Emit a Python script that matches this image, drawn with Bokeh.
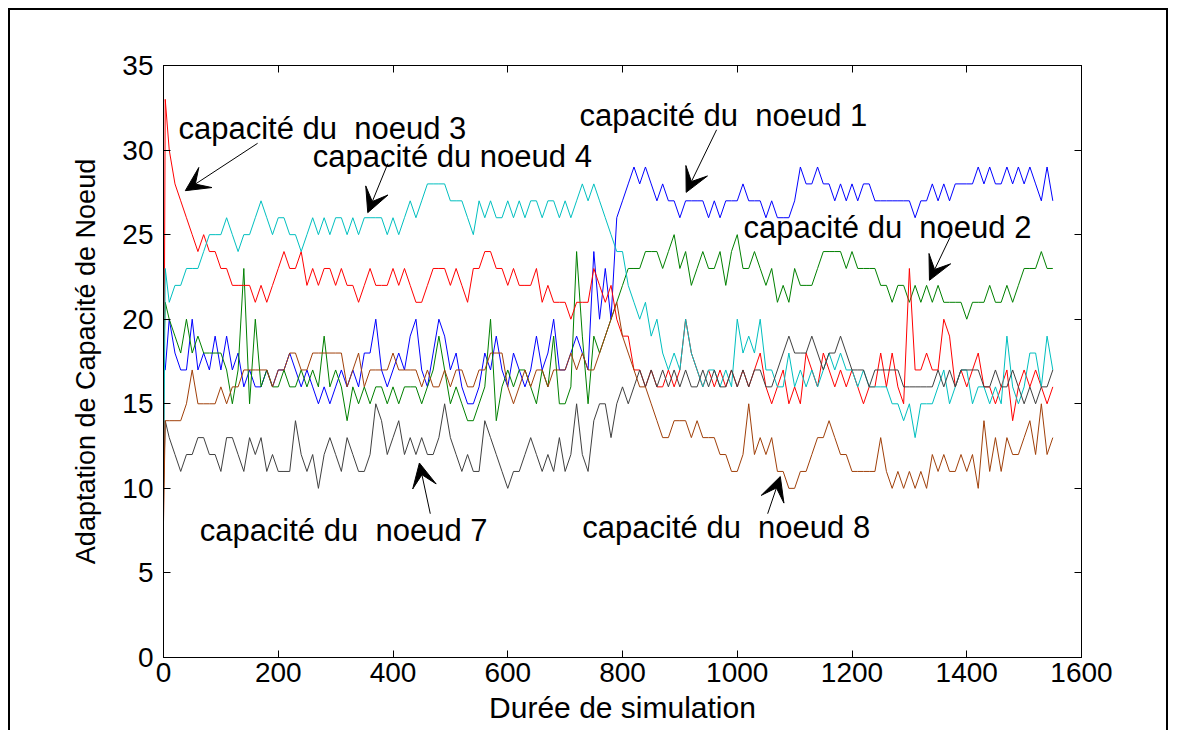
from bokeh.plotting import figure
from bokeh.models import LinearAxis, Label, Arrow, VeeHead, Range1d, SingleIntervalTicker
from bokeh.embed import file_html
from bokeh.resources import INLINE

# time axis: first sample, the jump sample, then every 10 time units
time = [0, 3] + list(range(10, 1551, 10))

noeud1 = [17, 17,
          20, 18, 17, 17, 20, 17, 18, 17, 19, 17,
          19, 17, 18, 16, 17, 16, 16, 17, 16, 17,
          17, 18, 17, 16, 17, 16, 15, 16, 15, 16,
          17, 16, 17, 16, 18, 18, 20, 17, 16, 17,
          18, 17, 19, 20, 17, 16, 18, 20, 19, 17,
          18, 16, 15, 15, 16, 18, 17, 19, 17, 16,
          18, 17, 16, 17, 19, 17, 18, 20, 17, 17,
          18, 19, 18, 17, 24, 20, 23, 20, 26, 27,
          28, 29, 28, 29, 28, 27, 28, 27, 27, 26,
          27, 27, 27, 27, 26, 27, 26, 27, 27, 27,
          28, 27, 27, 27, 26, 27, 26, 26, 26, 27,
          29, 28, 28, 29, 28, 28, 27, 28, 27, 28,
          27, 28, 28, 27, 27, 27, 27, 27, 27, 27,
          26, 27, 27, 28, 27, 28, 27, 28, 28, 28,
          28, 29, 28, 29, 28, 28, 29, 28, 29, 28,
          29, 28, 27, 29, 27]

noeud2 = [17, 21,
          20, 19, 18, 20, 18, 19, 18, 18, 18, 18,
          17, 15, 17, 23, 15, 20, 16, 17, 16, 16,
          17, 16, 16, 17, 16, 17, 16, 19, 16, 17,
          16, 14, 16, 15, 16, 15, 16, 16, 15, 16,
          15, 16, 16, 16, 15, 16, 17, 19, 17, 15,
          16, 15, 14, 14, 15, 16, 20, 14, 16, 17,
          16, 17, 17, 16, 15, 17, 16, 19, 15, 15,
          16, 24, 19, 15, 19, 18, 19, 20, 21, 22,
          23, 23, 23, 24, 24, 24, 23, 24, 25, 23,
          24, 22, 23, 24, 23, 23, 24, 22, 24, 25,
          23, 23, 24, 23, 22, 23, 21, 22, 21, 23,
          22, 22, 22, 23, 24, 24, 24, 24, 23, 24,
          23, 23, 23, 23, 22, 22, 21, 22, 22, 21,
          22, 21, 22, 21, 22, 21, 21, 21, 21, 20,
          21, 21, 21, 22, 21, 21, 22, 21, 22, 23,
          23, 23, 24, 23, 23]

noeud3 = [8, 33,
          30, 28, 27, 26, 25, 24, 25, 24, 24, 23,
          23, 22, 22, 22, 22, 21, 22, 21, 22, 23,
          24, 23, 23, 24, 22, 23, 22, 23, 23, 22,
          23, 22, 22, 21, 22, 23, 22, 22, 22, 23,
          22, 23, 22, 21, 21, 22, 23, 23, 23, 22,
          23, 22, 21, 23, 23, 24, 24, 23, 23, 22,
          23, 22, 22, 22, 23, 21, 22, 21, 21, 21,
          20, 21, 21, 21, 23, 22, 21, 22, 20, 19,
          19, 17, 17, 16, 17, 16, 16, 17, 16, 17,
          20, 18, 17, 16, 17, 16, 17, 16, 17, 16,
          17, 16, 17, 18, 16, 15, 16, 17, 15, 16,
          15, 18, 17, 16, 18, 17, 16, 17, 16, 17,
          16, 15, 16, 16, 18, 16, 18, 16, 15, 23,
          17, 17, 18, 17, 17, 20, 19, 16, 17, 16,
          17, 18, 16, 16, 15, 16, 17, 14, 16, 17,
          16, 17, 16, 15, 16]

noeud4 = [9, 23,
          21, 22, 22, 23, 23, 23, 24, 25, 25, 25,
          26, 25, 24, 25, 25, 26, 27, 26, 25, 26,
          26, 25, 25, 24, 25, 26, 25, 26, 25, 26,
          26, 25, 26, 25, 26, 26, 26, 26, 25, 26,
          25, 26, 27, 26, 27, 28, 28, 28, 28, 27,
          27, 27, 26, 25, 27, 26, 27, 26, 26, 27,
          26, 27, 26, 27, 27, 26, 27, 27, 26, 27,
          26, 27, 28, 27, 28, 27, 26, 25, 24, 24,
          22, 21, 20, 21, 19, 20, 18, 17, 18, 17,
          20, 18, 17, 16, 17, 17, 16, 17, 16, 20,
          18, 19, 18, 20, 17, 17, 16, 16, 18, 16,
          17, 16, 17, 16, 17, 18, 17, 18, 17, 17,
          16, 17, 16, 16, 16, 16, 15, 15, 14, 15,
          13, 15, 15, 15, 16, 17, 15, 16, 17, 17,
          15, 16, 16, 15, 16, 15, 19, 16, 15, 16,
          18, 18, 16, 19, 17]

noeud7 = [10, 14,
          13, 12, 11, 12, 12, 13, 13, 12, 12, 11,
          13, 13, 12, 11, 13, 12, 13, 11, 12, 11,
          11, 11, 14, 12, 11, 12, 10, 12, 13, 12,
          11, 13, 12, 11, 11, 12, 15, 14, 12, 13,
          14, 12, 13, 12, 13, 12, 12, 13, 15, 13,
          12, 11, 12, 11, 11, 14, 13, 12, 11, 10,
          11, 11, 12, 13, 12, 11, 12, 11, 13, 11,
          12, 15, 12, 11, 14, 15, 15, 13, 15, 16,
          15, 16, 17, 16, 17, 16, 17, 16, 17, 16,
          17, 16, 16, 17, 16, 17, 16, 16, 17, 16,
          17, 16, 17, 17, 16, 16, 17, 18, 19, 18,
          18, 18, 19, 18, 17, 18, 18, 19, 18, 17,
          17, 17, 16, 17, 17, 17, 17, 17, 16, 16,
          16, 16, 16, 16, 17, 16, 17, 16, 17, 17,
          17, 17, 16, 16, 17, 16, 16, 17, 16, 15,
          16, 15, 16, 16, 17]

noeud8 = [8, 14,
          14, 14, 14, 15, 17, 15, 15, 15, 15, 16,
          15, 16, 16, 17, 17, 17, 17, 17, 16, 17,
          17, 18, 18, 17, 17, 18, 18, 18, 18, 18,
          18, 16, 17, 18, 16, 17, 17, 17, 17, 18,
          17, 17, 17, 17, 16, 17, 16, 16, 17, 16,
          17, 17, 16, 16, 17, 17, 18, 18, 18, 16,
          15, 16, 17, 16, 17, 17, 16, 17, 17, 17,
          18, 17, 18, 17, 17, 18, 19, 20, 21, 19,
          18, 17, 16, 16, 15, 14, 13, 13, 14, 14,
          14, 13, 14, 13, 13, 13, 12, 12, 11, 11,
          12, 15, 12, 13, 12, 13, 11, 11, 10, 10,
          11, 11, 12, 13, 13, 14, 13, 12, 12, 11,
          11, 11, 11, 11, 13, 11, 10, 11, 10, 11,
          10, 11, 10, 12, 11, 12, 11, 11, 12, 11,
          12, 10, 14, 11, 13, 11, 13, 12, 12, 13,
          14, 12, 15, 12, 13]

series_names = ["noeud 1", "noeud 2", "noeud 3", "noeud 4", "noeud 7", "noeud 8"]
series_values = [noeud1, noeud2, noeud3, noeud4, noeud7, noeud8]
series_colors = ["#0000FF", "#008000", "#FF0000", "#00BFBF", "#404040", "#A0400A"]

for vals in series_values:
    assert len(vals) == len(time), len(vals)

annotation_texts = ["capacité du\u00a0 noeud 3", "capacité du noeud 4", "capacité du\u00a0 noeud 1",
                    "capacité du\u00a0 noeud 2", "capacité du\u00a0 noeud 7", "capacité du\u00a0 noeud 8"]
annotation_pos = [(26, 31.3), (260, 29.6), (725, 32.05), (1011, 25.4), (63, 7.5), (730, 7.7)]
arrows = [((164, 30.4), (38, 27.6)),
          ((391, 29.2), (356, 26.3)),
          ((964, 31.2), (911, 27.5)),
          ((1371, 24.85), (1335, 22.3)),
          ((465, 8.5), (446, 11.5)),
          ((1053, 8.5), (1075, 10.7))]

FONT = "Liberation Sans"

p = figure(width=1160, height=722, output_backend="svg", toolbar_location=None,
           x_range=Range1d(0, 1600), y_range=Range1d(0, 35),
           min_border_left=153, min_border_top=55, min_border_right=89, min_border_bottom=75,
           x_axis_label="Durée de simulation", y_axis_label="Adaptation de Capacité de Noeud")
p.styles = {"border-left": "2px solid black", "border-top": "2px solid black",
            "border-right": "2px solid black", "margin-left": "8px", "margin-top": "8px"}
p.xgrid.visible = False
p.ygrid.visible = False
p.outline_line_color = "black"
p.outline_line_width = 1
p.background_fill_color = "white"
p.border_fill_color = "white"

p.xaxis.ticker = SingleIntervalTicker(interval=200, num_minor_ticks=0)
p.yaxis.ticker = SingleIntervalTicker(interval=5, num_minor_ticks=0)

for ax in (p.xaxis[0], p.yaxis[0]):
    ax.major_tick_in = 7
    ax.major_tick_out = 0
    ax.minor_tick_in = 0
    ax.minor_tick_out = 0
    ax.axis_line_color = "black"
    ax.major_tick_line_color = "black"
    ax.major_label_text_font = FONT
    ax.major_label_text_font_size = "28px"
    ax.major_label_text_color = "black"
    ax.axis_label_text_font = FONT
    ax.axis_label_text_font_style = "normal"
    ax.axis_label_text_color = "black"
p.xaxis.major_label_standoff = 5
p.xaxis.axis_label_standoff = 6
p.xaxis.axis_label_text_font_size = "30px"
p.yaxis.major_label_standoff = 10
p.yaxis.axis_label_standoff = 18
p.yaxis.axis_label_text_font_size = "27px"

top_ax = LinearAxis(ticker=SingleIntervalTicker(interval=200, num_minor_ticks=0),
                    major_label_text_color=None, major_label_text_font_size="1px",
                    major_tick_in=7, major_tick_out=0,
                    minor_tick_in=0, minor_tick_out=0, major_label_standoff=0)
right_ax = LinearAxis(ticker=SingleIntervalTicker(interval=5, num_minor_ticks=0),
                      major_label_text_color=None, major_label_text_font_size="1px",
                      major_tick_in=7, major_tick_out=0,
                      minor_tick_in=0, minor_tick_out=0, major_label_standoff=0)
p.add_layout(top_ax, "above")
p.add_layout(right_ax, "right")

for name, vals, col in zip(series_names, series_values, series_colors):
    p.line(time, vals, line_color=col, line_width=1)

for txt, (x, y) in zip(annotation_texts, annotation_pos):
    p.add_layout(Label(x=x, y=y, text=txt, text_font=FONT, text_font_size="31px",
                       text_color="black", text_baseline="middle", text_align="left"))

for (x0, y0), (x1, y1) in arrows:
    p.add_layout(Arrow(x_start=x0, y_start=y0, x_end=x1, y_end=y1, line_color="black",
                       line_width=1,
                       end=VeeHead(size=24, fill_color="black", line_color="black")))

open("out.html", "w").write(file_html(p, INLINE))
